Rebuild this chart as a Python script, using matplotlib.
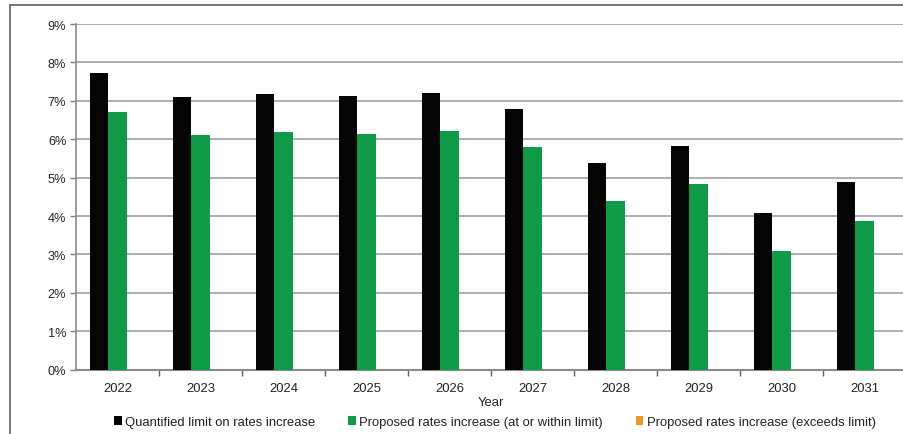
import matplotlib
matplotlib.use("Agg")
import matplotlib.pyplot as plt
from matplotlib.patches import Rectangle
import numpy as np

plt.rcParams['font.family'] = ['Liberation Sans', 'DejaVu Sans']

years = ['2022', '2023', '2024', '2025', '2026', '2027', '2028', '2029', '2030', '2031']
limit = [7.72, 7.09, 7.18, 7.13, 7.21, 6.79, 5.39, 5.83, 4.07, 4.89]
within = [6.72, 6.10, 6.19, 6.14, 6.21, 5.80, 4.40, 4.83, 3.08, 3.88]
exceeds = [0, 0, 0, 0, 0, 0, 0, 0, 0, 0]

labels = ['Quantified limit on rates increase',
          'Proposed rates increase (at or within limit)',
          'Proposed rates increase (exceeds limit)']
colors = ['#050505', '#0f9a48', '#f7941d']

W, H = 904, 435
fig = plt.figure(figsize=(W / 100, H / 100), dpi=100)

# outer frame (right / bottom edges are cut off in the original)
fig.patches.append(Rectangle((9.5 / W, -0.1), 1.2, 1 - 5.5 / H + 0.1,
                             transform=fig.transFigure, fill=False,
                             edgecolor='#606060', linewidth=1.2))

ax = fig.add_axes([76 / W, (H - 370.7) / H, 830 / W, (370.7 - 25) / H])

x = np.arange(len(years))
bw = 0.2235
series = [limit, within, exceeds]
handles = []
for i, vals in enumerate(series):
    b = ax.bar(x - bw + i * bw, vals, bw, color=colors[i], label=labels[i], zorder=3)
    handles.append(b)

ax.set_xlim(-0.5, len(years) - 0.5)
ax.set_ylim(0, 9)
ax.set_yticks(range(10))
ax.set_yticklabels(['%d%%' % v for v in range(10)])
ax.yaxis.grid(True, color='#a0a0a0', linewidth=1.2, zorder=0)
ax.set_axisbelow(True)

ax.set_xticks(x)
ax.set_xticklabels(years)
ax.set_xticks(np.arange(len(years)) + 0.5, minor=True)
ax.tick_params(axis='x', which='major', length=0, pad=9, labelsize=9.4, labelcolor='#222222')
ax.tick_params(axis='x', which='minor', length=4, color='#606060', width=1)
ax.tick_params(axis='y', length=4, color='#808080', width=1, pad=3,
               labelsize=9.2, labelcolor='#222222')

for s in ['top', 'right']:
    ax.spines[s].set_visible(False)
ax.spines['left'].set_color('#8a8a8a')
ax.spines['left'].set_linewidth(1.2)
ax.spines['bottom'].set_color('#8a8a8a')
ax.spines['bottom'].set_linewidth(1.5)

fig.text(491 / W, 1 - 403 / H, 'Year', ha='center', va='center', fontsize=9.4, color='#222222')

fig.legend(handles=handles, labels=labels, loc='center', ncol=3,
           bbox_to_anchor=(495 / W, 1 - 423 / H), frameon=False,
           fontsize=9.4, handlelength=0.6, handleheight=0.6, handletextpad=0.25,
           columnspacing=2.5, labelcolor='#222222')

fig.savefig('out.png', dpi=100)
